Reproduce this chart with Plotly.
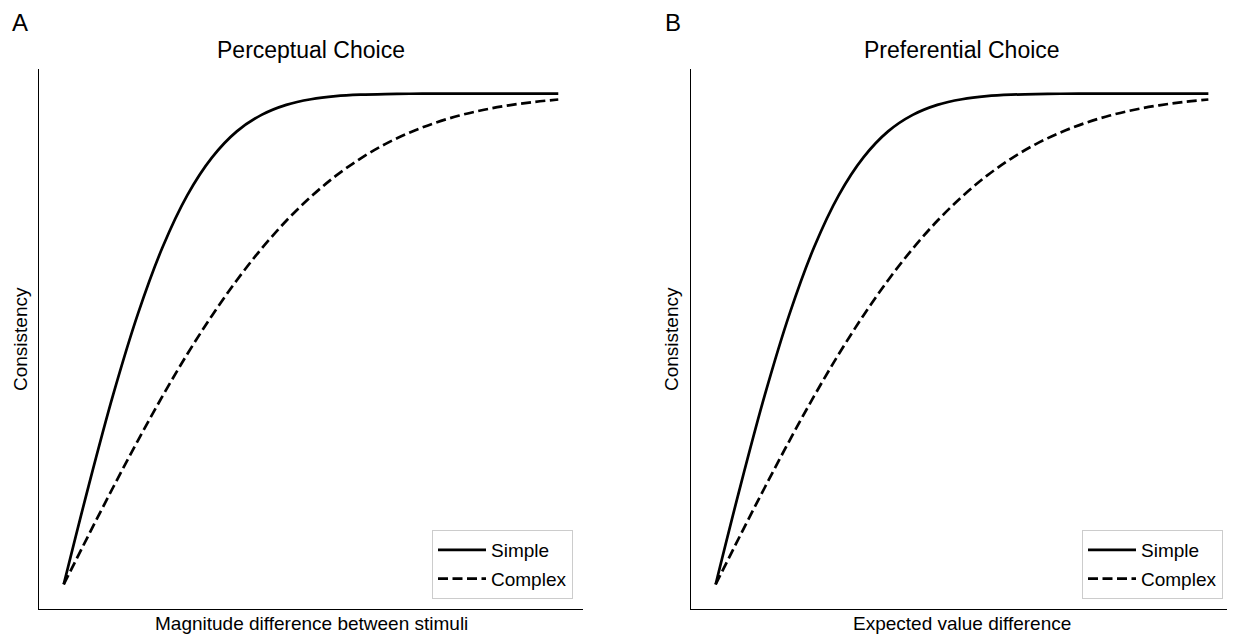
import plotly.graph_objects as go

# ---- data ----
# Panel A: Perceptual Choice
perc_simple_x = [0, 0.5, 1.0, 1.5, 2.0, 2.5, 3.0, 3.5, 4.0, 4.5, 5.0, 5.5, 6.0, 6.5, 7.0, 7.5, 8.0, 8.5, 9.0, 9.5, 10.0]
perc_simple_y = [0.5, 0.5997, 0.6933, 0.7756, 0.8437, 0.8966, 0.935, 0.9615, 0.9783, 0.9885, 0.9942,
                 0.9973, 0.9988, 0.9995, 0.9998, 0.9999, 1.0, 1.0, 1.0, 1.0, 1.0]
perc_complex_x = [0, 0.5, 1.0, 1.5, 2.0, 2.5, 3.0, 3.5, 4.0, 4.5, 5.0, 5.5, 6.0, 6.5, 7.0, 7.5, 8.0, 8.5, 9.0, 9.5, 10.0]
perc_complex_y = [0.5, 0.55, 0.599, 0.6466, 0.692, 0.7347, 0.774, 0.8099, 0.842, 0.8704, 0.895,
                  0.9161, 0.9338, 0.9485, 0.9604, 0.97, 0.9776, 0.9835, 0.988, 0.9914, 0.9939]

# Panel B: Preferential Choice
pref_simple_x = [0, 0.5, 1.0, 1.5, 2.0, 2.5, 3.0, 3.5, 4.0, 4.5, 5.0, 5.5, 6.0, 6.5, 7.0, 7.5, 8.0, 8.5, 9.0, 9.5, 10.0]
pref_simple_y = [0.5, 0.5997, 0.6933, 0.7756, 0.8437, 0.8966, 0.935, 0.9615, 0.9783, 0.9885, 0.9942,
                 0.9973, 0.9988, 0.9995, 0.9998, 0.9999, 1.0, 1.0, 1.0, 1.0, 1.0]
pref_complex_x = [0, 0.5, 1.0, 1.5, 2.0, 2.5, 3.0, 3.5, 4.0, 4.5, 5.0, 5.5, 6.0, 6.5, 7.0, 7.5, 8.0, 8.5, 9.0, 9.5, 10.0]
pref_complex_y = [0.5, 0.55, 0.599, 0.6466, 0.692, 0.7347, 0.774, 0.8099, 0.842, 0.8704, 0.895,
                  0.9161, 0.9338, 0.9485, 0.9604, 0.97, 0.9776, 0.9835, 0.988, 0.9914, 0.9939]

series_names = ["Simple", "Complex"]
panel_titles = ["Perceptual Choice", "Preferential Choice"]
panel_letters = ["A", "B"]
x_titles = ["Magnitude difference between stimuli", "Expected value difference"]
y_title = "Consistency"

FONT = "Arial, Liberation Sans, sans-serif"
LW = 2.7

fig = go.Figure()

panels = [
    (perc_simple_x, perc_simple_y, perc_complex_x, perc_complex_y, "x", "y", "legend"),
    (pref_simple_x, pref_simple_y, pref_complex_x, pref_complex_y, "x2", "y2", "legend2"),
]
for sx, sy, cx, cy, xa, ya, lg in panels:
    fig.add_trace(go.Scatter(x=sx, y=sy, mode="lines", name=series_names[0],
                             line=dict(color="black", width=LW, shape="spline", smoothing=1.0),
                             xaxis=xa, yaxis=ya, legend=lg, legendgroup=lg + "s"))
    fig.add_trace(go.Scatter(x=cx, y=cy, mode="lines", name=series_names[1],
                             line=dict(color="black", width=LW, dash="10px,4.5px", shape="spline", smoothing=1.0),
                             xaxis=xa, yaxis=ya, legend=lg, legendgroup=lg + "c"))

# the page body has an 8px margin, so the figure is placed at (8, 8) in the window
OFF = 8
W, H = 1235 - OFF, 636 - OFF
ml, mr, mt, mb = 39 - OFF, 2, 69 - OFF, 27
pw = W - ml - mr
ph = H - mt - mb

def px_to_paper_x(px):  # px: window pixel
    return (px - OFF - ml) / pw

def px_to_paper_y(py):
    return (H - mb - (py - OFF)) / ph

ax_common = dict(showline=True, linecolor="black", linewidth=1.3, showticklabels=False,
                 ticks="", showgrid=False, zeroline=False, mirror=False, fixedrange=True)

left_dom = [0, px_to_paper_x(583)]
right_dom = [px_to_paper_x(691), 1]

legend_common = dict(xanchor="right", yanchor="bottom", bordercolor="#cccccc", borderwidth=1,
                     bgcolor="white", font=dict(size=19, family=FONT), traceorder="grouped",
                     tracegroupgap=1, itemwidth=48)

fig.update_layout(
    width=W, height=H, autosize=False,
    margin=dict(l=ml, r=mr, t=mt, b=mb),
    plot_bgcolor="white", paper_bgcolor="white",
    font=dict(family=FONT, color="black", size=19),
    xaxis=dict(domain=left_dom, range=[-0.5, 10.5], anchor="y", **ax_common),
    yaxis=dict(domain=[0, 1], range=[0.475, 1.025], anchor="x", **ax_common),
    xaxis2=dict(domain=right_dom, range=[-0.5, 10.5], anchor="y2", **ax_common),
    yaxis2=dict(domain=[0, 1], range=[0.475, 1.025], anchor="x2", **ax_common),
    legend=dict(x=px_to_paper_x(573), y=px_to_paper_y(599), **legend_common),
    legend2=dict(x=px_to_paper_x(1223), y=px_to_paper_y(599), **legend_common),
    showlegend=True,
)

annots = []
centers = [(39 + 583) / 2, (691 + 1233) / 2]
letter_px = [20, 673]
ytitle_px = [20, 671]
for i in range(2):
    annots.append(dict(text=panel_titles[i], x=px_to_paper_x(centers[i]), y=px_to_paper_y(50),
                       xref="paper", yref="paper", showarrow=False, xanchor="center", yanchor="middle",
                       font=dict(size=23, family=FONT)))
    annots.append(dict(text=panel_letters[i], x=px_to_paper_x(letter_px[i]), y=px_to_paper_y(22),
                       xref="paper", yref="paper", showarrow=False, xanchor="center", yanchor="middle",
                       font=dict(size=24, family=FONT)))
    annots.append(dict(text=x_titles[i], x=px_to_paper_x(centers[i]), y=px_to_paper_y(623),
                       xref="paper", yref="paper", showarrow=False, xanchor="center", yanchor="middle",
                       font=dict(size=19, family=FONT)))
    annots.append(dict(text=y_title, x=px_to_paper_x(ytitle_px[i]), y=px_to_paper_y(339),
                       xref="paper", yref="paper", showarrow=False, xanchor="center", yanchor="middle",
                       textangle=-90, font=dict(size=19, family=FONT)))
fig.update_layout(annotations=annots)

fig.write_html("out.html")
